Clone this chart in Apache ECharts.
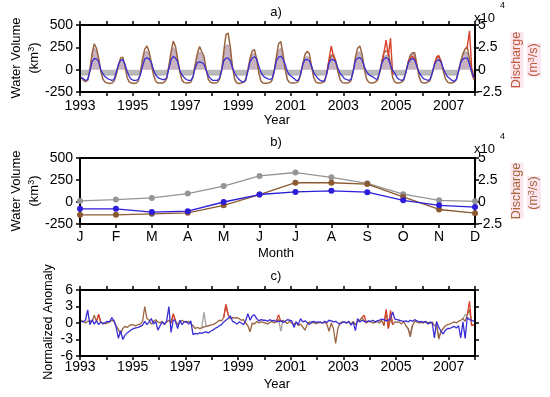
<!DOCTYPE html>
<html><head><meta charset="utf-8">
<script src="https://cdn.jsdelivr.net/npm/echarts@6/dist/echarts.min.js"></script>
<style>html,body{margin:0;padding:0;background:#fff}#c{width:550px;height:397px}</style>
</head><body><div id="c"></div><script>
const FONT = '"Liberation Sans", Arial, sans-serif';
const startYear = 1993;
const yearTicks = [1993,1995,1997,1999,2001,2003,2005,2007];
const months = ['J','F','M','A','M','J','J','A','S','O','N','D'];

// Panel a: monthly water volume (km3), blue
const volA = [
 -90,-100,-120,-110,-20,90,125,120,90,0,-50,-80,
 -100,-110,-120,-110,-30,60,105,114,60,-20,-80,-110,
 -120,-120,-110,-60,40,120,132,120,80,0,-60,-90,
 -100,-110,-110,-90,10,110,150,130,90,-10,-60,-90,
 -110,-120,-120,-80,20,80,87,80,60,-10,-70,-100,
 -120,-120,-120,-100,-10,100,130,130,100,20,-40,-80,
 -110,-130,-140,-120,-20,90,130,144,120,40,-30,-70,
 -90,-100,-110,-100,-20,100,140,150,120,60,-20,-60,
 -80,-100,-120,-120,-50,60,110,114,100,40,-30,-70,
 -100,-120,-130,-120,-40,80,114,110,90,20,-40,-70,
 -100,-110,-120,-110,-20,100,130,136,110,40,-20,-50,
 -70,-80,-100,-110,-30,70,120,136,120,50,-10,-40,
 -90,-110,-120,-110,-30,70,110,125,110,40,-30,-70,
 -100,-110,-120,-110,-40,60,100,110,90,20,-40,-80,
 -100,-120,-130,-110,-20,80,120,130,130,60,-20,-90
];
// Panel a: grey filled series (km3)
const greyA = [
 -60,-60,-60,-60,20,150,240,210,110,-20,-60,-60,
 -60,-60,-60,-60,-30,40,100,110,40,-40,-60,-60,
 -60,-60,-60,-30,90,190,210,170,70,-30,-60,-60,
 -60,-60,-60,-50,40,170,250,210,100,-20,-60,-60,
 -60,-60,-60,-40,50,150,200,170,120,0,-60,-60,
 -60,-60,-60,-60,0,150,270,280,180,20,-60,-60,
 -60,-60,-60,-60,-10,100,170,180,130,-10,-60,-60,
 -60,-60,-60,-60,0,120,220,240,150,10,-60,-60,
 -60,-60,-60,-60,-30,50,130,150,130,30,-50,-60,
 -60,-60,-60,-60,-20,80,160,140,80,-10,-60,-60,
 -60,-60,-60,-60,-10,110,190,200,140,20,-50,-60,
 -60,-60,-60,-60,-20,70,150,160,160,50,-50,-60,
 -60,-60,-60,-60,-10,80,160,190,180,40,-50,-60,
 -60,-60,-60,-60,-30,50,120,130,90,10,-50,-60,
 -60,-60,-60,-60,0,100,160,200,190,60,-40,-60
];
// Panel a: discharge (x10^4 m3/s), brown
const dischA = [
 -0.8,-1.2,-1.35,-1.2,-0.1,1.8,2.9,2.4,1.3,-0.2,-1.1,-1.4,
 -1.5,-1.55,-1.5,-1.3,-0.6,0.5,1.3,1.4,0.4,-0.9,-1.4,-1.5,
 -1.55,-1.5,-1.3,-0.4,1.2,2.3,2.65,2.0,0.8,-0.6,-1.3,-1.5,
 -1.5,-1.5,-1.4,-1.0,0.4,2.0,3.2,2.6,1.2,-0.3,-1.2,-1.45,
 -1.5,-1.5,-1.4,-0.8,0.6,1.8,2.6,2.0,1.5,0.0,-1.1,-1.4,
 -1.5,-1.5,-1.45,-1.1,-0.2,2.0,3.9,4.1,2.5,0.3,-1.1,-1.5,
 -1.55,-1.5,-1.4,-1.1,0.0,1.3,2.1,2.25,1.2,-0.4,-1.3,-1.5,
 -1.55,-1.5,-1.45,-1.2,-0.2,1.5,2.9,3.15,1.8,0.0,-1.1,-1.45,
 -1.5,-1.5,-1.45,-1.3,-0.6,0.6,1.7,2.05,1.8,0.4,-0.9,-1.4,
 -1.5,-1.5,-1.45,-1.3,-0.4,1.0,1.6,1.7,1.0,-0.2,-1.1,-1.45,
 -1.5,-1.5,-1.45,-1.2,-0.2,1.4,2.4,2.65,1.8,0.2,-1.0,-1.4,
 -1.5,-1.5,-1.4,-1.2,-0.4,0.8,1.9,2.1,2.0,0.6,-0.9,-1.4,
 -1.5,-1.5,-1.4,-1.2,-0.3,0.8,1.6,1.9,1.9,0.6,-0.8,-1.4,
 -1.5,-1.5,-1.4,-1.2,-0.4,0.6,1.3,1.5,1.0,-0.1,-1.0,-1.4,
 -1.5,-1.5,-1.4,-1.1,-0.2,0.9,1.8,2.3,2.5,1.2,-0.4,-1.1
];
// Panel a: second discharge record (x10^4 m3/s), red, only where it departs
const redA = {
 2002: [null,null,null,null,-0.4,1.2,2.65,1.5,1.0,null,null,null],
 2004: [null,null,null,null,null,0.8,1.9,3.3,1.5,3.5,-0.6,null],
 2005: [null,null,null,null,null,0.8,1.3,1.5,1.2,0.5,null,null],
 2006: [null,null,null,null,null,0.6,1.4,1.6,0.8,null,null,null],
 2007: [null,null,null,null,null,null,null,2.3,2.6,4.35,0.2,-1.0]
};

// Panel b: monthly climatology
const climGrey  = [12,27,46,96,181,296,335,281,212,89,19,8];
const climBrown = [-1.46,-1.46,-1.34,-1.23,-0.38,0.85,2.19,2.19,2.04,0.58,-0.85,-1.27];
const climBlue  = [-77,-77,-115,-104,0,85,115,127,112,19,-38,-58];

// Panel c: normalized anomalies
const anomBlue = [
 0.3,0.2,0.5,2.4,-0.3,0.6,-0.2,0.4,-0.3,0.2,-0.2,0.1,
 0.3,0.2,1.0,0.4,-0.8,-2.8,-1.4,-3.0,-2.2,-1.8,-1.5,-1.2,
 -1.0,-0.9,-0.8,-0.6,-0.4,0.3,-0.3,0.2,0.8,-0.2,0.3,-1.3,
 -0.5,0.2,-0.3,0.4,3.0,-1.7,0.6,0.3,-1.0,0.5,-0.3,0.2,
 0.3,-0.2,0.4,-2.1,-1.9,-2.0,-1.8,-1.9,-1.7,-1.6,-1.8,-1.5,
 -1.3,-1.0,-0.8,-0.5,-0.3,0.2,0.5,0.8,1.3,0.3,0.1,-0.2,
 0.2,0.0,-0.3,0.4,1.7,0.5,1.3,1.5,0.8,0.4,0.6,0.5,
 0.5,0.3,0.6,0.4,0.5,0.2,0.3,0.4,0.1,0.3,0.6,0.5,
 0.4,-0.8,0.2,-0.3,0.8,0.2,0.4,0.1,-0.3,0.2,0.3,0.1,
 0.2,0.1,0.0,0.3,0.1,0.5,0.4,0.2,0.3,0.0,-0.2,0.1,
 0.2,0.0,0.3,-0.4,0.1,-1.4,0.8,0.2,0.5,0.3,0.2,0.4,
 0.3,0.5,0.2,0.4,0.5,0.7,0.6,0.4,0.5,0.8,2.0,0.7,
 0.6,0.5,0.4,0.3,0.4,0.2,0.5,0.3,0.6,0.4,0.2,0.3,
 0.1,0.3,-0.2,0.2,0.0,-2.7,0.3,-0.8,-1.5,-2.0,-1.3,-1.0,
 -1.0,-0.8,-0.6,-0.9,-0.5,-2.7,0.2,-2.8,1.0,0.6,0.5,0.3
];
const anomBrown = [
 0.5,0.3,0.0,0.3,0.4,0.2,1.4,0.3,1.5,0.1,0.0,-0.1,
 0.0,0.2,0.5,0.3,-0.5,-1.2,-2.0,-1.0,-0.6,-0.8,-0.5,-0.3,
 -0.4,-0.5,-0.3,-0.2,0.3,3.0,0.8,0.5,-0.2,0.3,0.6,0.2,
 0.0,0.3,-0.2,0.2,0.5,0.0,1.6,0.4,-0.3,0.2,0.5,0.2,
 0.1,0.3,-0.1,-0.5,-1.0,-0.8,-1.0,-0.9,-0.7,-0.6,-0.5,-0.4,
 -0.3,-0.1,0.2,0.5,0.4,1.0,3.3,1.5,0.8,1.0,0.9,1.0,
 0.8,0.5,0.6,0.0,-0.5,-1.6,0.0,-0.2,0.3,0.0,0.2,0.1,
 0.0,-0.2,0.1,0.3,0.0,0.4,0.6,0.3,0.5,0.2,-0.1,0.3,
 0.0,-0.3,0.2,-0.5,-0.2,-0.7,-1.3,-0.3,0.2,0.0,0.1,-0.1,
 0.0,0.2,0.0,0.1,-0.2,-1.5,0.0,-1.0,-3.7,-1.0,0.0,0.2,
 0.1,0.0,0.2,-0.2,0.3,-0.3,0.2,0.5,1.0,0.4,0.0,0.3,
 0.2,0.0,0.1,0.3,0.0,0.5,-0.5,2.3,-1.0,0.8,-0.3,0.2,
 0.1,0.2,-0.2,0.3,-0.5,-1.0,-2.5,-0.5,0.3,0.2,0.0,0.1,
 0.0,0.2,0.1,-0.1,0.2,-0.5,-0.3,-2.8,-1.5,-1.0,-0.5,-0.3,
 -0.2,0.0,0.2,0.0,0.3,0.5,0.8,0.3,1.5,2.5,-0.5,-0.3
];
const redC = {
 1993: [null,null,null,null,null,null,null,0.3,1.6,0.1,null,null],
 1996: [null,null,null,null,null,0.0,1.7,0.4,null,null,null,null],
 1998: [null,null,null,null,null,1.0,3.4,1.5,null,null,null,null],
 2000: [null,null,null,null,null,0.4,1.5,0.3,null,null,null,null],
 2003: [null,null,null,null,null,null,null,null,1.0,1.4,0.0,null],
 2004: [null,null,null,null,null,null,-0.5,2.5,-1.0,2.3,-0.3,null],
 2007: [null,null,null,null,null,null,null,null,1.5,4.0,-0.5,-0.3]
};
const greyC = {
 1997: [null,null,null,null,null,null,null,-0.9,2.0,-0.6,null,null],
 2000: [null,null,null,null,null,null,0.6,-1.5,0.5,null,null,null],
 2005: [null,null,null,null,null,-1.0,-2.0,-0.3,null,null,null,null],
 2006: [null,null,null,null,null,null,-0.3,-3.0,-1.5,null,null,null],
 2007: [null,null,null,null,null,null,0.8,1.5,1.5,null,null,null]
};

function monthX(i){ return startYear + (i + 0.5) / 12; }
function pairs(arr){ return arr.map((v,i)=>[monthX(i), v]); }
function sparsePairs(byYear){
  const out = [];
  for (let y = startYear; y <= 2007; y++) {
    const row = byYear[y] || new Array(12).fill(null);
    row.forEach((v,m)=>{ const i=(y-startYear)*12+m; out.push([monthX(i), v===null?'-':v]); });
  }
  return out;
}

const BLACK = '#000';
const axLine = {show:true, onZero:false, lineStyle:{color:BLACK, width:2}};
const tickOut = {show:true, inside:false, length:4, lineStyle:{color:BLACK, width:1.5}};
const lab = (extra) => Object.assign({color:BLACK, fontSize:14, fontFamily:FONT}, extra||{});
const yearFmt = v => (yearTicks.indexOf(Math.round(v))>=0 && Math.abs(v-Math.round(v))<1e-6) ? String(Math.round(v)) : '';

const grids = [
  {left:80, top:25, width:395, height:67},
  {left:80, top:158, width:395, height:66},
  {left:80, top:290, width:395, height:66}
];

function yearAxisBottom(g, margin){
  return {type:'value', gridIndex:g, position:'bottom', min:1993, max:2008, interval:1,
    axisLine:axLine, axisTick:tickOut, splitLine:{show:false},
    axisLabel:lab({formatter:yearFmt, margin:margin, showMinLabel:true, showMaxLabel:true})};
}
function yearAxisTop(g){
  return {type:'value', gridIndex:g, position:'top', min:1993, max:2008, interval:1,
    axisLine:axLine, axisTick:tickOut, splitLine:{show:false}, axisLabel:{show:false}};
}

const xAxis = [
  yearAxisBottom(0, 7), yearAxisTop(0),
  {type:'category', gridIndex:1, position:'bottom', data:months, boundaryGap:false,
    axisLine:axLine, axisTick:tickOut, axisLabel:lab({margin:6, interval:0})},
  {type:'category', gridIndex:1, position:'top', data:months, boundaryGap:false,
    axisLine:axLine, axisTick:{show:false}, axisLabel:{show:false}},
  yearAxisBottom(2, 4), yearAxisTop(2)
];

function leftVol(g){
  return {type:'value', gridIndex:g, position:'left', min:-250, max:500, interval:250,
    axisLine:axLine, axisTick:tickOut, splitLine:{show:false}, axisLabel:lab({margin:7})};
}
function rightDis(g){
  return {type:'value', gridIndex:g, position:'right', min:-2.5, max:5, interval:2.5,
    axisLine:axLine, axisTick:tickOut, splitLine:{show:false}, axisLabel:lab({margin:3})};
}
const yAxis = [
  leftVol(0), rightDis(0), leftVol(1), rightDis(1),
  {type:'value', gridIndex:2, position:'left', min:-6, max:6, interval:3,
    axisLine:axLine, axisTick:tickOut, splitLine:{show:false}, axisLabel:lab({margin:7})},
  {type:'value', gridIndex:2, position:'right', min:-6, max:6, interval:3,
    axisLine:axLine, axisTick:tickOut, splitLine:{show:false}, axisLabel:{show:false}}
];

const C_BLUE = '#3a2ed4', C_BROWN = '#9a6440', C_RED = '#d8432e', C_GREY = '#a3a3a3';
const lineBase = {type:'line', showSymbol:false, symbol:'none', animation:false, z:3};

// fill colours: mauve above zero, grey below zero (zero line of panel a at 2/3 of its height)
const gA = grids[0];
const zeroFrac = 500 / 750;
const fillGrad = new echarts.graphic.LinearGradient(0, gA.top, 0, gA.top + gA.height, [
  {offset:0, color:'#c8b3c0'}, {offset:zeroFrac, color:'#c8b3c0'},
  {offset:zeroFrac, color:'#bababa'}, {offset:1, color:'#bababa'}], true);
const lineGrad = new echarts.graphic.LinearGradient(0, gA.top, 0, gA.top + gA.height, [
  {offset:0, color:'#b49aa8'}, {offset:zeroFrac, color:'#b49aa8'},
  {offset:zeroFrac, color:'#a8a8a8'}, {offset:1, color:'#a8a8a8'}], true);

const series = [
  Object.assign({}, lineBase, {name:'greyA', xAxisIndex:0, yAxisIndex:0, data:pairs(greyA),
    lineStyle:{width:1, color:lineGrad}, areaStyle:{opacity:1, origin:0, color:fillGrad}, z:1}),
  Object.assign({}, lineBase, {name:'dischA', xAxisIndex:0, yAxisIndex:1, data:pairs(dischA),
    lineStyle:{color:C_BROWN, width:1.5}}),
  Object.assign({}, lineBase, {name:'redA', xAxisIndex:0, yAxisIndex:1, data:sparsePairs(redA),
    connectNulls:false, lineStyle:{color:C_RED, width:1.4}}),
  Object.assign({}, lineBase, {name:'volA', xAxisIndex:0, yAxisIndex:0, data:pairs(volA),
    lineStyle:{color:C_BLUE, width:1.3}}),

  {type:'line', xAxisIndex:2, yAxisIndex:2, data:climGrey, symbol:'circle', symbolSize:6, animation:false,
    lineStyle:{color:'#959595', width:1.3}, itemStyle:{color:'#959595'}},
  {type:'line', xAxisIndex:2, yAxisIndex:3, data:climBrown, symbol:'circle', symbolSize:6, animation:false,
    lineStyle:{color:'#8c5a30', width:1.3}, itemStyle:{color:'#8c5a30'}},
  {type:'line', xAxisIndex:2, yAxisIndex:2, data:climBlue, symbol:'circle', symbolSize:6, animation:false,
    lineStyle:{color:'#2c1ddb', width:1.3}, itemStyle:{color:'#2c1ddb'}},

  Object.assign({}, lineBase, {xAxisIndex:4, yAxisIndex:4, data:sparsePairs(greyC),
    lineStyle:{color:C_GREY, width:1.3}, z:2}),
  Object.assign({}, lineBase, {xAxisIndex:4, yAxisIndex:4, data:pairs(anomBrown),
    lineStyle:{color:C_BROWN, width:1.3}}),
  Object.assign({}, lineBase, {xAxisIndex:4, yAxisIndex:4, data:sparsePairs(redC),
    lineStyle:{color:C_RED, width:1.3}}),
  Object.assign({}, lineBase, {xAxisIndex:4, yAxisIndex:4, data:pairs(anomBlue),
    lineStyle:{color:C_BLUE, width:1.3}, z:4})
];

function txt(x, y, text, opts){
  return {type:'text', x:x, y:y, rotation:(opts&&opts.rot)||0, z:10,
    style:Object.assign({text:text, fill:BLACK, font:'13px '+FONT, align:'center', verticalAlign:'middle'}, (opts&&opts.style)||{})};
}
function supText(x, y, pre, sup, post, color, bg, size){
  const fs = size || 13;
  const st = {rich:{n:{font:fs+'px '+FONT, fill:color}, s:{font:'9px '+FONT, fill:color, verticalAlign:'top', padding:[0,0,5,0]}},
    text:'{n|'+pre+'}{s|'+sup+'}{n|'+post+'}', align:'center', verticalAlign:'middle'};
  if (bg) st.backgroundColor = bg;
  return {type:'text', x:x, y:y, rotation:Math.PI/2, z:10, style:st};
}
const ROT = Math.PI/2;
const DIS_A = '#bf5a3c', DIS_B = '#a8663e', PINK = '#fbe6ef';
const graphic = [
  txt(276, 12, 'a)'), txt(276, 142, 'b)'), txt(276, 276, 'c)'),
  txt(277, 120, 'Year'), txt(276, 253, 'Month'), txt(277, 384, 'Year'),
  txt(16, 58, 'Water Volume', {rot:ROT}),
  supText(34, 58, '(km', '3', ')', BLACK),
  txt(16, 191, 'Water Volume', {rot:ROT}),
  supText(34, 191, '(km', '3', ')', BLACK),
  txt(49, 322, 'Normalized Anomaly', {rot:ROT, style:{font:'12.5px '+FONT}}),
  txt(517, 60, 'Discharge', {rot:ROT, style:{fill:DIS_A, backgroundColor:PINK, font:'12.5px '+FONT}}),
  supText(534, 60, '(m', '3', '/s)', DIS_A, PINK, 12.5),
  txt(517, 191, 'Discharge', {rot:ROT, style:{fill:DIS_B, backgroundColor:PINK, font:'12.5px '+FONT}}),
  supText(534, 193, '(m', '3', '/s)', DIS_B, PINK, 12.5),
  {type:'text', x:474, y:18, z:10, style:{text:'x10', font:'13px '+FONT, fill:BLACK, align:'left', verticalAlign:'middle'}},
  {type:'text', x:500, y:6, z:10, style:{text:'4', font:'9px '+FONT, fill:BLACK, align:'left', verticalAlign:'middle'}},
  {type:'text', x:474, y:149, z:10, style:{text:'x10', font:'13px '+FONT, fill:BLACK, align:'left', verticalAlign:'middle'}},
  {type:'text', x:500, y:137, z:10, style:{text:'4', font:'9px '+FONT, fill:BLACK, align:'left', verticalAlign:'middle'}}
];

const chart = echarts.init(document.getElementById('c'), null, {renderer:'canvas'});
chart.setOption({
  animation:false,
  backgroundColor:'#fff',
  grid:grids,
  xAxis:xAxis,
  yAxis:yAxis,
  series:series,
  graphic:graphic
});
</script></body></html>
